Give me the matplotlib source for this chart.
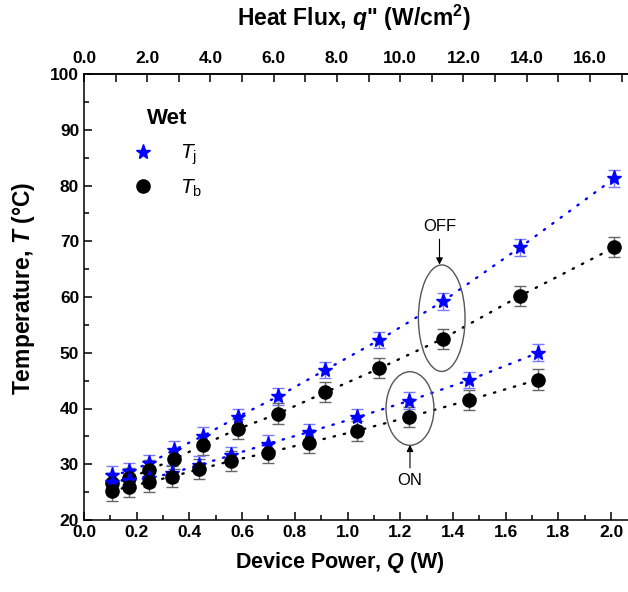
import numpy as np
import matplotlib.pyplot as plt
import matplotlib.ticker as ticker
from matplotlib.patches import Ellipse

plt.rcParams['font.family'] = ['Liberation Sans', 'DejaVu Sans']
plt.rcParams['mathtext.fontset'] = 'custom'
plt.rcParams['mathtext.rm'] = 'Liberation Sans'
plt.rcParams['mathtext.it'] = 'Liberation Sans:italic'
plt.rcParams['mathtext.bf'] = 'Liberation Sans:bold'
plt.rcParams['mathtext.bfit'] = 'Liberation Sans:italic:bold'

# pump OFF (upper pair) and pump ON (lower pair)
Q_off = [0.105, 0.172, 0.248, 0.343, 0.453, 0.583, 0.738, 0.915, 1.121, 1.361, 1.655, 2.013]
Tj_off = [28.1, 28.7, 30.2, 32.6, 35.1, 38.5, 42.2, 46.9, 52.3, 59.2, 68.9, 81.3]
Tb_off = [26.6, 27.5, 29.0, 30.9, 33.5, 36.3, 39.1, 42.9, 47.2, 52.5, 60.2, 68.9]

Q_on = [0.105, 0.172, 0.245, 0.333, 0.438, 0.558, 0.700, 0.855, 1.035, 1.235, 1.461, 1.724]
Tj_on = [26.9, 27.2, 27.5, 28.4, 29.9, 31.6, 33.7, 35.8, 38.4, 41.4, 45.1, 50.0]
Tb_on = [25.2, 26.0, 26.8, 27.8, 29.1, 30.6, 32.1, 33.9, 36.0, 38.5, 41.5, 45.2]

Tj_err = [1.5] * 12
Tb_err = [1.8] * 12

area = 0.12  # cm2, q'' = Q / area

fig = plt.figure(figsize=(6.28, 5.92), dpi=100)
ax = fig.add_axes([84 / 628, 72 / 592, 553.4 / 628, 446 / 592])

dots = (0, (0.6, 3.8))
for q, tj, tb in [(Q_off, Tj_off, Tb_off), (Q_on, Tj_on, Tb_on)]:
    ax.plot(q, tj, color='blue', ls=dots, lw=1.7, dash_capstyle='round', zorder=2)
    ax.plot(q, tb, color='black', ls=dots, lw=1.7, dash_capstyle='round', zorder=2)
    ax.errorbar(q, tj, yerr=Tj_err, fmt='none', ecolor='#7a7aff', elinewidth=1,
                capsize=4.5, capthick=1, zorder=3)
    ax.errorbar(q, tb, yerr=Tb_err, fmt='none', ecolor='#666666', elinewidth=1,
                capsize=4.5, capthick=1, zorder=3)
    hj, = ax.plot(q, tj, ls='none', marker='*', ms=11, color='blue', zorder=4)
    hb, = ax.plot(q, tb, ls='none', marker='o', ms=9.5, color='black', zorder=4)

# highlight ellipses + arrows
ax.add_patch(Ellipse((1.3575, 56.2), 0.177, 19.1, fill=False, ec='#555555', lw=1, zorder=5))
ax.add_patch(Ellipse((1.237, 40.0), 0.182, 13.2, fill=False, ec='#555555', lw=1, zorder=5))
ax.annotate('OFF', xy=(1.349, 65.8), xytext=(1.349, 72.7), ha='center', va='center',
            fontsize=12, arrowprops=dict(arrowstyle='-|>', color='black', lw=0.8,
                                         mutation_scale=10, shrinkB=0))
ax.annotate('ON', xy=(1.237, 33.5), xytext=(1.237, 27.0), ha='center', va='center',
            fontsize=12, arrowprops=dict(arrowstyle='-|>', color='black', lw=0.8,
                                         mutation_scale=10, shrinkB=0))

ax.set_xlim(0, 2.1)
ax.set_ylim(20, 100)
ax.xaxis.set_major_locator(ticker.MultipleLocator(0.2))
ax.xaxis.set_minor_locator(ticker.MultipleLocator(0.1))
ax.xaxis.set_major_formatter(ticker.FormatStrFormatter('%.1f'))
ax.yaxis.set_major_locator(ticker.MultipleLocator(10))
ax.yaxis.set_minor_locator(ticker.MultipleLocator(5))
ax.tick_params(which='both', direction='in', top=False, right=False, width=1.1, labelsize=12.5)
ax.tick_params(which='major', length=6)
ax.tick_params(which='minor', length=3.5)
for s in ax.spines.values():
    s.set_linewidth(1.1)

secax = ax.secondary_xaxis('top', functions=(lambda x: x / area, lambda q: q * area))
secax.xaxis.set_major_locator(ticker.FixedLocator(np.arange(0, 17, 2)))
secax.xaxis.set_minor_locator(ticker.FixedLocator(np.arange(0, 18, 1)))
secax.xaxis.set_major_formatter(ticker.FormatStrFormatter('%.1f'))
secax.tick_params(which='both', direction='in', width=1.1, labelsize=12.5, pad=6)
secax.tick_params(which='major', length=6)
secax.tick_params(which='minor', length=6)
secax.spines['top'].set_linewidth(1.1)

for lab in ax.get_xticklabels() + ax.get_yticklabels() + secax.get_xticklabels():
    lab.set_fontweight('bold')

ax.set_xlabel(r'Device Power, $\mathbfit{Q}$ (W)', fontsize=15.5, fontweight='bold')
ax.xaxis.set_label_coords(0.4626, -0.068)
ax.set_ylabel(r'Temperature, $\mathbfit{T}$ ($\mathbf{°C}$)', fontsize=16.5, fontweight='bold')
ax.yaxis.set_label_coords(-0.085, 0.52)
fig.text(354 / 628, 1 - 18 / 592, r'Heat Flux, $\mathbfit{q}$" (W/cm$^{\mathbf{2}}$)',
         fontsize=16.5, fontweight='bold', ha='center', va='center')

# legend, with "Wet" as its heading
ax.text(0.15, 0.9, 'Wet', transform=ax.transAxes, fontsize=16, fontweight='bold',
        ha='center', va='center')
leg = ax.legend([hj, hb], [r'$T_\mathrm{j}$', r'$T_\mathrm{b}$'], fontsize=15,
                loc='upper left', bbox_to_anchor=(0.035, 0.888), frameon=False,
                handletextpad=0.8, labelspacing=0.5)

plt.savefig('out.png', dpi=100)
